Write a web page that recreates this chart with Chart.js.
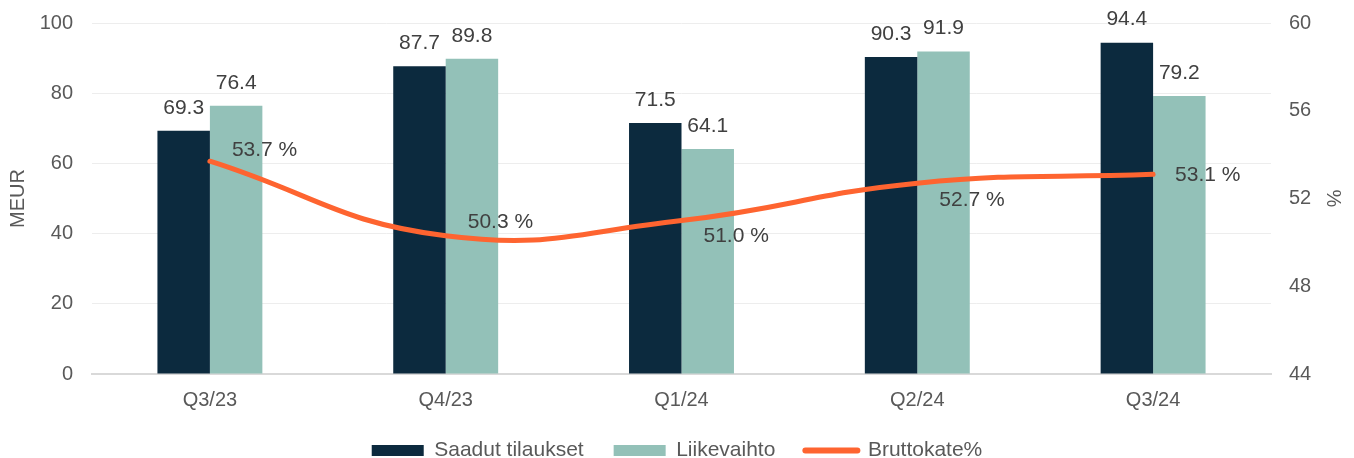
<!DOCTYPE html>
<html>
<head>
<meta charset="utf-8">
<script src="https://cdn.jsdelivr.net/npm/chart.js@4.4.1/dist/chart.umd.min.js"></script>
<style>
    html, body { margin: 0; padding: 0; background: #ffffff; }
    #wrap { width: 1354px; height: 458px; position: relative; }
</style>
</head>
<body>
<div id="wrap"><canvas id="mainChart"></canvas></div>
<script>
const quarters = ['Q3/23', 'Q4/23', 'Q1/24', 'Q2/24', 'Q3/24'];
const orders = [69.3, 87.7, 71.5, 90.3, 94.4];
const revenue = [76.4, 89.8, 64.1, 91.9, 79.2];
const grossMargin = [53.7, 50.3, 51.0, 52.7, 53.1];
const leftTicks = [0, 20, 40, 60, 80, 100];
const rightTicks = [44, 48, 52, 56, 60];

const FONT = "'Liberation Sans', Arial, sans-serif";
const TICK_COLOR = '#595959';
const LABEL_COLOR = '#404040';

// value labels: bars centered above, line labels to the right of the point
const valueLabels = {
    id: 'valueLabels',
    afterDatasetsDraw(chart) {
        const ctx = chart.ctx;
        ctx.save();
        ctx.font = '21px ' + FONT;
        ctx.fillStyle = LABEL_COLOR;
        ctx.textBaseline = 'middle';
        const lineDy = [-11, -14, 16, 17, 1];
        chart.data.datasets.forEach((ds, di) => {
            const meta = chart.getDatasetMeta(di);
            meta.data.forEach((el, i) => {
                const v = ds.data[i];
                if (ds.type === 'line') {
                    ctx.textAlign = 'left';
                    ctx.fillText(v.toFixed(1) + ' %', el.x + 22, el.y + lineDy[i]);
                } else {
                    ctx.textAlign = 'center';
                    ctx.fillText(v.toFixed(1), el.x, el.y - 23);
                }
            });
        });
        ctx.restore();
    }
};

const ctx = document.getElementById('mainChart').getContext('2d');
new Chart(ctx, {
    data: {
        labels: quarters,
        datasets: [
            {
                type: 'bar',
                label: 'Saadut tilaukset',
                data: orders,
                backgroundColor: '#0c2a3e',
                yAxisID: 'y',
                order: 1,
                barPercentage: 1,
                categoryPercentage: 0.445
            },
            {
                type: 'bar',
                label: 'Liikevaihto',
                data: revenue,
                backgroundColor: '#93c1b8',
                yAxisID: 'y',
                order: 1,
                barPercentage: 1,
                categoryPercentage: 0.445
            },
            {
                type: 'line',
                label: 'Bruttokate%',
                data: grossMargin,
                borderColor: '#fe6430',
                backgroundColor: '#fe6430',
                borderWidth: 5,
                borderCapStyle: 'round',
                tension: 0.45,
                pointRadius: 0,
                yAxisID: 'y1',
                order: 0
            }
        ]
    },
    options: {
        responsive: true,
        maintainAspectRatio: false,
        animation: false,
        layout: { padding: { top: 23, left: 0, right: 0, bottom: 0 } },
        scales: {
            x: {
                grid: { display: false, drawTicks: false },
                border: { display: true, color: '#d9d9d9', width: 2 },
                ticks: { color: TICK_COLOR, font: { family: FONT, size: 20, lineHeight: 1 }, padding: 16 },
                afterFit(scale) { scale.height = 36; }
            },
            y: {
                position: 'left',
                min: 0,
                max: 100,
                afterBuildTicks(scale) { scale.ticks = leftTicks.map(v => ({ value: v })); },
                grid: { color: '#ededed', lineWidth: 1, drawTicks: false },
                border: { display: false },
                ticks: { color: TICK_COLOR, font: { family: FONT, size: 20 }, padding: 19 },
                title: {
                    display: true,
                    text: 'MEUR',
                    color: TICK_COLOR,
                    font: { family: FONT, size: 20 },
                    padding: { top: 6, bottom: 0 }
                },
                afterFit(scale) { scale.width = 92; scale.paddingTop = 0; scale.paddingBottom = 0; }
            },
            y1: {
                position: 'right',
                min: 44,
                max: 60,
                afterBuildTicks(scale) { scale.ticks = rightTicks.map(v => ({ value: v })); },
                grid: { display: false, drawTicks: false },
                border: { display: false },
                ticks: { color: TICK_COLOR, font: { family: FONT, size: 20 }, padding: 18 },
                title: {
                    display: true,
                    text: '%',
                    color: TICK_COLOR,
                    font: { family: FONT, size: 20 },
                    padding: { top: 9, bottom: 0 }
                },
                afterFit(scale) { scale.width = 83; scale.paddingTop = 0; scale.paddingBottom = 0; }
            }
        },
        plugins: {
            tooltip: { enabled: false },
            legend: {
                position: 'bottom',
                maxHeight: 48,
                labels: {
                    color: TICK_COLOR,
                    font: { family: FONT, size: 21, lineHeight: 0.64 },
                    usePointStyle: true,
                    pointStyleWidth: 52,
                    boxHeight: 11,
                    padding: 30,
                    generateLabels(chart) {
                        const items = Chart.defaults.plugins.legend.labels.generateLabels(chart);
                        items.sort((a, b) => a.datasetIndex - b.datasetIndex);
                        items.forEach(item => {
                            const ds = chart.data.datasets[item.datasetIndex];
                            if (ds.type === 'line') {
                                item.pointStyle = 'line';
                                item.strokeStyle = ds.borderColor;
                                item.lineWidth = 6;
                                item.lineCap = 'round';
                            } else {
                                item.pointStyle = 'rect';
                                item.lineWidth = 0;
                            }
                        });
                        return items;
                    }
                }
            }
        }
    },
    plugins: [valueLabels]
});
</script>
</body>
</html>
